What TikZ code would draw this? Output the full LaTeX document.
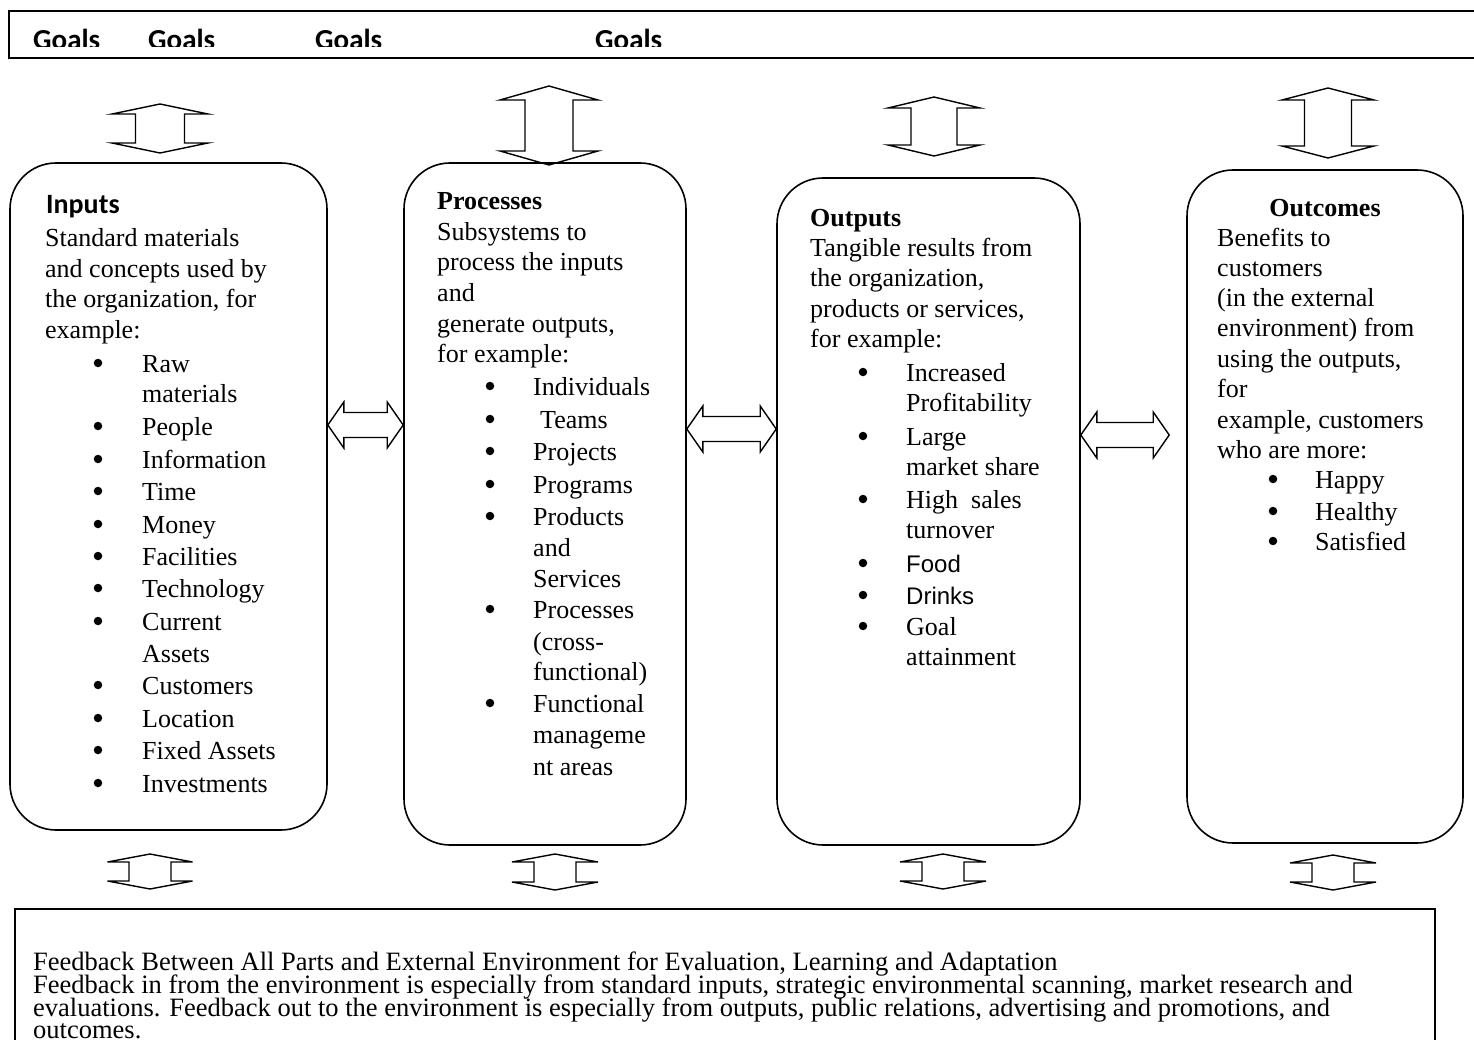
\documentclass[tikz,border=0pt]{standalone}
\usepackage{fontspec}
\setmainfont{Liberation Serif}
\newfontfamily\calibrifont{Carlito}
\newfontfamily\arialfont{Liberation Sans}
\usetikzlibrary{calc}

% vertical double block arrow: centre x, top tip y, bottom tip y, head half width, shaft half width, head length
\newcommand\vdarrow[6]{%
  \draw[blockarrow] (#1,#2) -- ++(#4,#6) -- ++(-#4+#5,0) -- (#1+#5,#3-#6) -- ++(#4-#5,0) -- (#1,#3)
    -- ++(-#4,-#6) -- ++(#4-#5,0) -- (#1-#5,#2+#6) -- ++(-#4+#5,0) -- cycle;}

% horizontal double block arrow between two boxes at height #3, right tip held #4 short of the box
\newcommand\hdarrow[4]{%
  \path (0,#3) coordinate (hy);
  \path (#1.east |- hy) coordinate (ha) ($(#2.west |- hy)+(-#4,0)$) coordinate (hb);
  \draw[blockarrow] (ha) -- ($(ha)+(16,-23)$) -- ($(ha)+(16,-12.5)$) -- ($(hb)+(-16,-12.5)$)
    -- ($(hb)+(-16,-23)$) -- (hb) -- ($(hb)+(-16,23)$) -- ($(hb)+(-16,12.5)$)
    -- ($(ha)+(16,12.5)$) -- ($(ha)+(16,23)$) -- cycle;}

\begin{document}
\begin{tikzpicture}[x=1pt, y=-1pt,
  frame/.style={draw, line width=1.6pt, inner sep=0pt},
  box/.style={draw, line width=1.6pt, rounded corners=46pt, inner sep=0pt},
  blockarrow/.style={draw, line width=1.4pt, line join=miter},
  txt/.style={anchor=base west, inner sep=0pt, font=\fontsize{26}{31}\selectfont},
  head/.style={anchor=base west, inner sep=0pt, font=\fontsize{26}{31}\selectfont\bfseries},
  bul/.style={circle, fill, inner sep=0pt, minimum size=8.5pt},
  sanstxt/.style={anchor=base west, inner sep=0pt, font=\fontsize{24}{29}\selectfont\arialfont},
  goal/.style={anchor=base west, inner sep=0pt, font=\fontsize{29}{34}\selectfont\calibrifont\bfseries},
  fbtxt/.style={anchor=base west, inner sep=0pt, font=\fontsize{26.5}{30}\selectfont},
]
\useasboundingbox (0,0) rectangle (1474,1040);
\clip (0,0) rectangle (1474,1040);
\fill[white] (0,0) rectangle (1474,1040);

% goals bar (runs past the right edge)
\node[frame, minimum width=1500pt, minimum height=47pt, anchor=north west] (goalsbar) at (8,10) {};
\begin{scope}
  \clip (0,0) rectangle (1474,47);
  \foreach \gx [count=\i] in {33,148,315,595}
    \node[goal] (goal\i) at (\gx,50) {Goals};
\end{scope}

% the four stages
\node[box, minimum width=317pt, minimum height=667pt] (in)   at (168.5,496.5) {};
\node[box, minimum width=282pt, minimum height=682pt] (proc) at (545,504) {};
\node[box, minimum width=303pt, minimum height=667pt] (out)  at (928.5,511.5) {};
\node[box, minimum width=276pt, minimum height=673pt] (outc) at (1325,506.5) {};

% Inputs
\node[anchor=base west, inner sep=0pt, font=\fontsize{28}{31}\selectfont\calibrifont\bfseries] (in-h) at (46,214) {Inputs};
\foreach \y/\t [count=\i] in {247/Standard materials, 278/and concepts used by, 308/{the organization, for}, 338/example:}
  \node[txt] (in-l\i) at (45,\y) {\t};
\foreach \y/\t [count=\i] in {372/Raw, 402/materials, 435/People, 468/Information, 500/Time, 533/Money,
    565/Facilities, 597/Technology, 630/Current, 662/Assets, 694/Customers, 727/Location,
    759/Fixed Assets, 792/Investments}
  \node[txt] (in-i\i) at (142,\y) {\t};
\foreach \y [count=\i] in {372,435,468,500,533,565,597,630,694,727,759,792}
  \node[bul] (in-d\i) at (98,\y-9) {};

% Processes
\node[head] (proc-h) at (437,210) {Processes};
\foreach \y/\t [count=\i] in {241/Subsystems to, 271/process the inputs, 302/and, 332/{generate outputs,}, 362/for example:}
  \node[txt] (proc-l\i) at (437,\y) {\t};
\foreach \y/\t [count=\i] in {395/Individuals, 460/Projects, 493/Programs, 525/Products, 556/and,
    587/Services, 618/Processes, 650/(cross-, 680/functional), 712/Functional, 743/manageme, 775/nt areas}
  \node[txt] (proc-i\i) at (533,\y) {\t};
\node[txt] (proc-team) at (540,428) {Teams};
\foreach \y [count=\i] in {395,428,460,493,525,618,712}
  \node[bul] (proc-d\i) at (490,\y-9) {};

% Outputs
\node[head] (out-h) at (810,227) {Outputs};
\foreach \y/\t [count=\i] in {257/Tangible results from, 287/{the organization,}, 318/{products or services,}, 348/for example:}
  \node[txt] (out-l\i) at (810,\y) {\t};
\foreach \y/\t [count=\i] in {381/Increased, 411/Profitability, 445/Large, 475/market share,
    508/High\ \ sales, 538/turnover, 635/Goal, 665/attainment}
  \node[txt] (out-i\i) at (906,\y) {\t};
\node[sanstxt] (out-food) at (906,572) {Food};
\node[sanstxt] (out-drinks) at (906,604) {Drinks};
\foreach \y [count=\i] in {381,445,508,572,604,635}
  \node[bul] (out-d\i) at (863,\y-9) {};

% Outcomes
\node[head, anchor=base] (outc-h) at (1325,217) {Outcomes};
\foreach \y/\t [count=\i] in {247/Benefits to, 277/customers, 307/(in the external, 337/environment) from,
    367/{using the outputs,}, 397/for, 428/{example, customers}, 458/who are more:}
  \node[txt] (outc-l\i) at (1217,\y) {\t};
\foreach \y/\t [count=\i] in {488/Happy, 520/Healthy, 550/Satisfied}
  \node[txt] (outc-i\i) at (1315,\y) {\t};
\foreach \y [count=\i] in {488,520,550}
  \node[bul] (outc-d\i) at (1273,\y-9) {};

% links between the stages
\hdarrow{in}{proc}{425}{0}
\hdarrow{proc}{out}{429}{0}
\hdarrow{out}{outc}{435}{17}

% links up to the goals
\vdarrow{160}{104}{153}{48}{24.5}{10}
\vdarrow{549}{86}{165}{49}{24}{14}
\vdarrow{934}{97}{156}{46}{23}{11}
\vdarrow{1328}{88}{158}{46}{23.5}{12}

% links down to the feedback
\vdarrow{150}{854}{889}{42.5}{21}{8}
\vdarrow{555}{854}{890}{43}{21}{8}
\vdarrow{943}{854}{889}{43}{21}{8}
\vdarrow{1333}{855}{890}{43}{21}{8}

% feedback
\node[frame, minimum width=1420pt, minimum height=150pt, anchor=north west] (fb) at (14,908) {};
\node[fbtxt] (fb-1) at (33,970) {Feedback Between All Parts and External Environment for Evaluation, Learning and Adaptation};
\node[fbtxt] (fb-2) at (33,993.5) {Feedback in from the environment is especially from standard inputs, strategic environmental scanning, market research and};
\node[fbtxt] (fb-3) at (33,1016.5) {evaluations. Feedback out to the environment is especially from outputs, public relations, advertising and promotions, and};
\node[fbtxt] (fb-4) at (33,1038) {outcomes.};
\end{tikzpicture}
\end{document}
